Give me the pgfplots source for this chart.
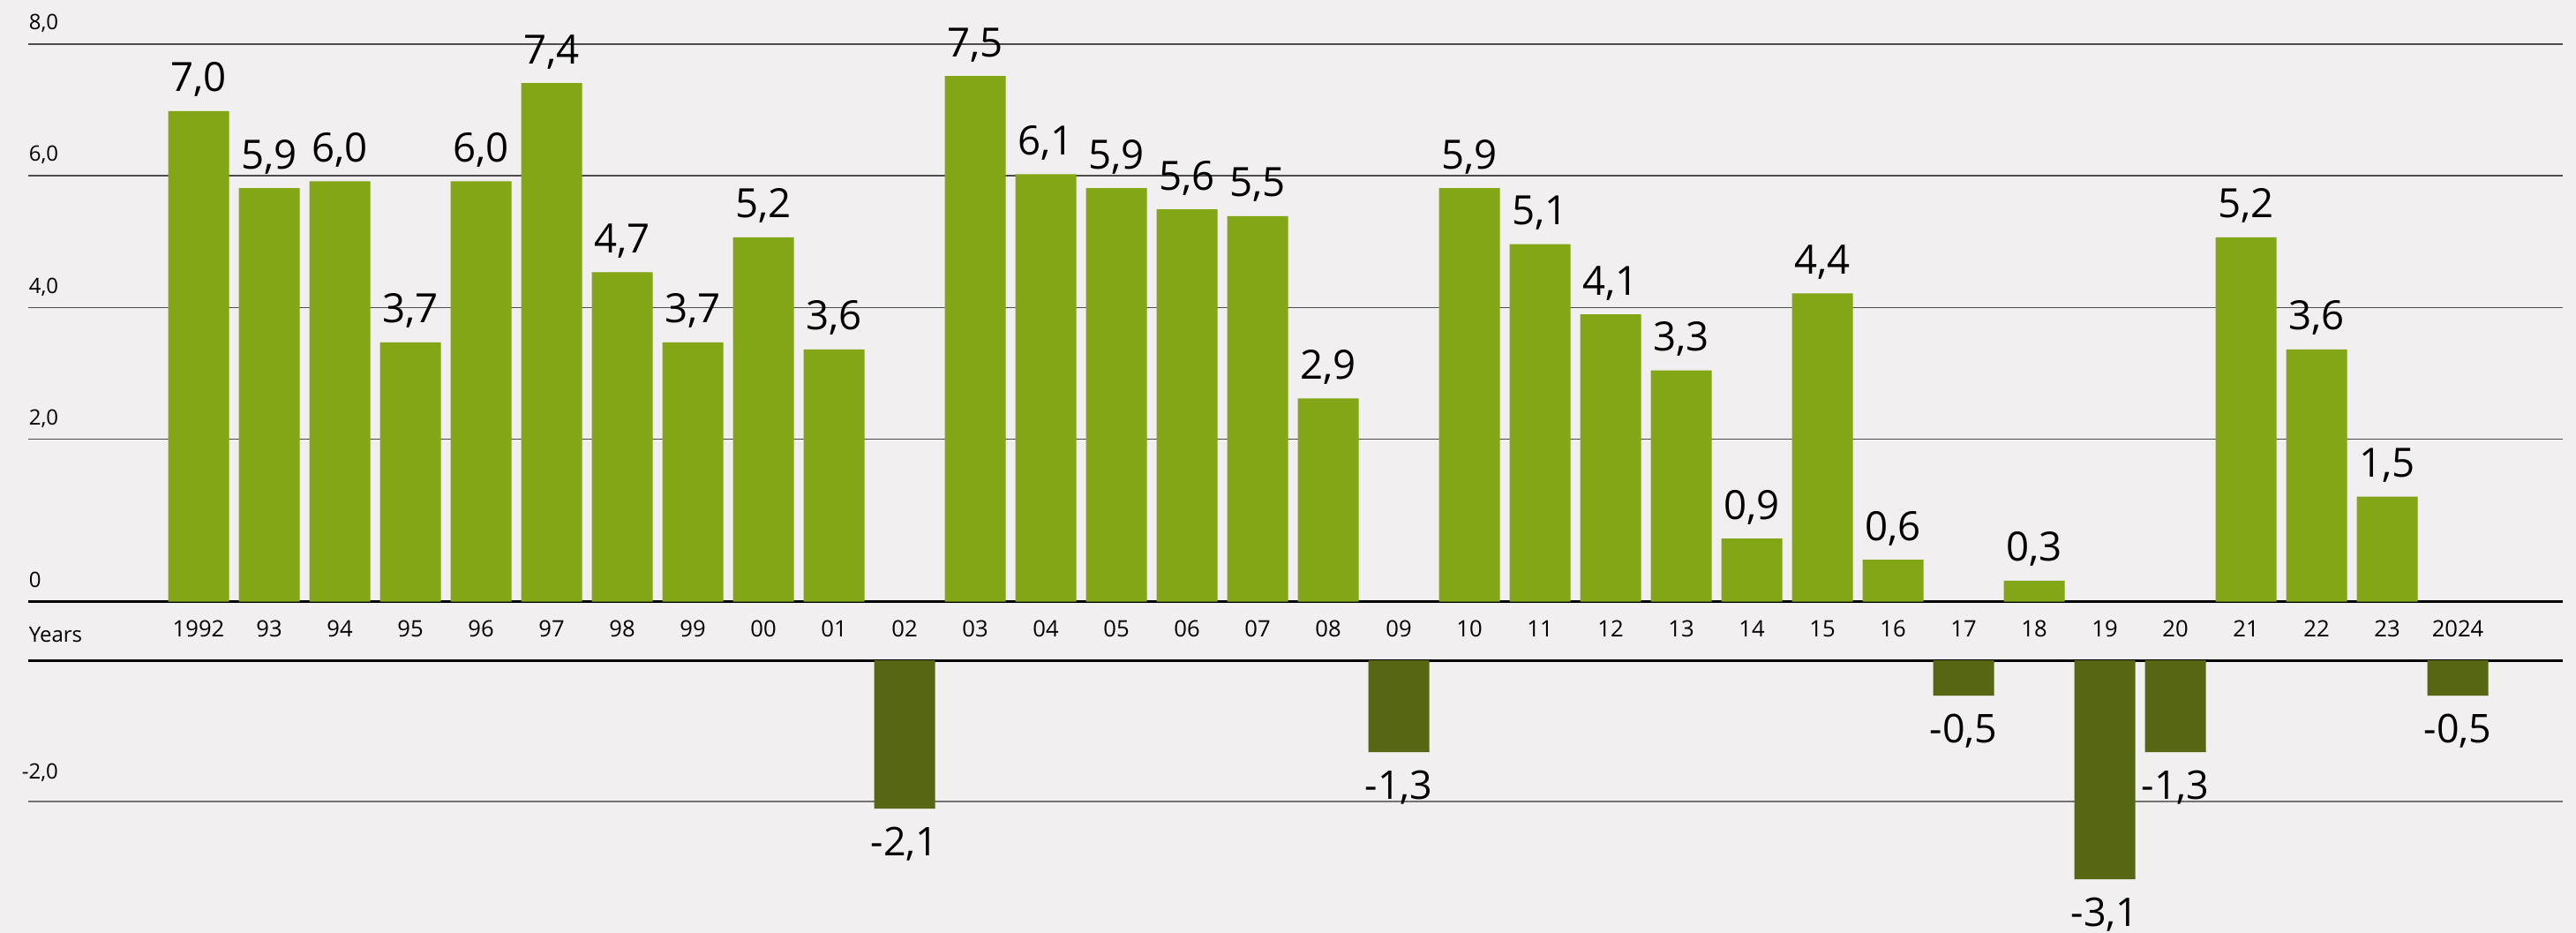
\documentclass[border=0pt]{standalone}
\usepackage{fontspec}
\setmainfont{Open Sans}
\usepackage{pgfplots}
\pgfplotsset{compat=1.18}
\usepackage{pgfplotstable}
\definecolor{bg}{RGB}{241,239,240}
\definecolor{gpos}{RGB}{130,166,21}
\definecolor{gneg}{RGB}{86,102,18}

\pgfplotstableread{
x y lab
0 7.0 7,0
1 5.9 5,9
2 6.0 6,0
3 3.7 3,7
4 6.0 6,0
5 7.4 7,4
6 4.7 4,7
7 3.7 3,7
8 5.2 5,2
9 3.6 3,6
11 7.5 7,5
12 6.1 6,1
13 5.9 5,9
14 5.6 5,6
15 5.5 5,5
16 2.9 2,9
18 5.9 5,9
19 5.1 5,1
20 4.1 4,1
21 3.3 3,3
22 0.9 0,9
23 4.4 4,4
24 0.6 0,6
26 0.3 0,3
29 5.2 5,2
30 3.6 3,6
31 1.5 1,5
}\postable

\pgfplotstableread{
x y lab
10 -2.1 -2,1
17 -1.3 -1,3
25 -0.5 -0,5
27 -3.1 -3,1
28 -1.3 -1,3
32 -0.5 -0,5
}\negtable

\begin{document}
\begin{tikzpicture}
\useasboundingbox (0,0) rectangle (729.75pt,264.25pt);
\fill[bg] (0,0) rectangle (729.75pt,264.25pt);
\begin{axis}[
  at={(8pt,93.825pt)}, anchor=south west,
  x=20pt, y=19.85pt,
  xmin=-2.4125, xmax=33.4875, ymin=0, ymax=8.1,
  ybar, bar width=17.25pt,
  axis line style={draw=none}, major tick length=0pt,
  ytick={2.322,4.199,6.08,7.956},
  yticklabels={2{,}0,4{,}0,6{,}0,8{,}0},
  extra y ticks={0}, extra y tick labels={0},
  extra y tick style={grid style={draw=black, line width=0.8pt}},
  ymajorgrids, grid style={draw=black!70, line width=0.35pt},
  yticklabel style={anchor=base west, inner sep=0pt, yshift=4pt, font=\fontsize{6}{7}\selectfont},
  xtick={0,...,32},
  xticklabels={1992,93,94,95,96,97,98,99,00,01,02,03,04,05,06,07,08,09,10,11,12,13,14,15,16,17,18,19,20,21,22,23,2024},
  xticklabel style={anchor=base, inner sep=0pt, yshift=-10pt, font=\fontsize{6.4}{7}\selectfont},
  clip=false,
  point meta=explicit symbolic,
]
\addplot[fill=gpos, draw=none, nodes near coords,
  every node near coord/.append style={anchor=base, inner sep=0pt, yshift=5.5pt, font=\fontsize{11.4}{13}\selectfont, text=black}]
  table[x=x, y=y, meta=lab]{\postable};
\node[anchor=base west, inner sep=0pt, font=\fontsize{6}{7}\selectfont, yshift=-11.5pt] at (rel axis cs:0,0) {Years};
\end{axis}
\begin{axis}[
  at={(8pt,0pt)}, anchor=south west,
  x=20pt, y=20pt,
  xmin=-2.4125, xmax=33.4875, ymin=-3.86, ymax=0,
  ybar, bar width=17.25pt,
  axis line style={draw=none}, major tick length=0pt,
  ytick={-2}, yticklabels={-2{,}0},
  extra y ticks={0}, extra y tick labels={},
  extra y tick style={grid style={draw=black, line width=0.8pt}},
  ymajorgrids, grid style={draw=black!55, line width=0.35pt},
  yticklabel style={anchor=base west, inner sep=0pt, yshift=6.4pt, xshift=-2pt, font=\fontsize{6}{7}\selectfont},
  xtick=\empty,
  clip=false,
  point meta=explicit symbolic,
]
\addplot[fill=gneg, draw=none, nodes near coords,
  every node near coord/.append style={anchor=north, inner sep=0pt, yshift=-5pt, font=\fontsize{11.2}{13}\selectfont, text=black}]
  table[x=x, y=y, meta=lab]{\negtable};
\end{axis}
\end{tikzpicture}
\end{document}
